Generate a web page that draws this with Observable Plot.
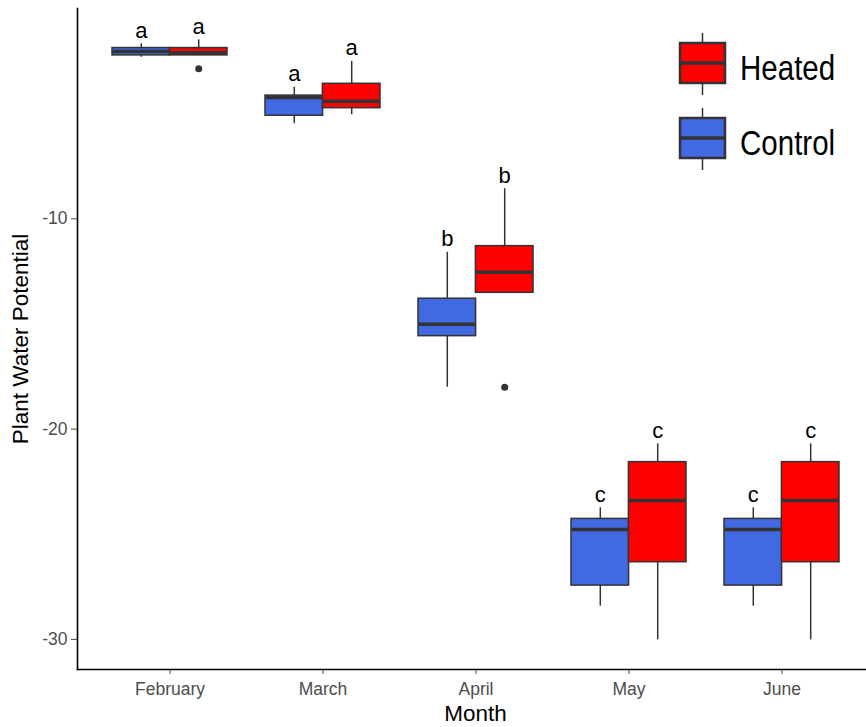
<!DOCTYPE html>
<html>
<head>
<meta charset="utf-8">
<script src="https://cdn.jsdelivr.net/npm/d3@7"></script>
<script src="https://cdn.jsdelivr.net/npm/@observablehq/plot@0.6"></script>
<style>
  body { margin: 0; background: #fff; }
  #chart { position: relative; width: 866px; height: 727px; overflow: hidden; }
  #legend { position: absolute; left: 0; top: 0; pointer-events: none; }
</style>
</head>
<body>
<div id="chart"></div>
<script>
// Months on the x axis and the two treatments
const months = ["February", "March", "April", "May", "June"];
const groups = ["Control", "Heated"];
const groupColors = ["#4169E1", "#FF0000"];

// Box-plot summaries per month (lower whisker, Q1, median, Q3, upper whisker)
const controlLow    = [-2.32, -5.48, -18.01, -28.42, -28.42];
const controlQ1     = [-2.23, -5.10, -15.58, -27.44, -27.44];
const controlMedian = [-2.04, -4.23, -15.01, -24.77, -24.77];
const controlQ3     = [-1.88, -4.14, -13.80, -24.27, -24.27];
const controlHigh   = [-1.68, -3.74, -11.59, -23.74, -23.74];

const heatedLow     = [-2.23, -5.05, -13.52, -30.02, -30.02];
const heatedQ1      = [-2.23, -4.74, -13.52, -26.33, -26.33];
const heatedMedian  = [-2.10, -4.41, -12.54, -23.40, -23.40];
const heatedQ3      = [-1.88, -3.58, -11.30, -21.57, -21.57];
const heatedHigh    = [-1.49, -2.51, -8.57, -20.70, -20.70];

// Significance letters (same letter for both treatments within a month)
const letters = ["a", "a", "b", "c", "c"];

// Outlying observations (Heated treatment)
const outlierMonths = ["February", "April"];
const outlierValues = [-2.87, -18.01];

const yTicks = [-30, -20, -10];

function rowsFor(group, low, q1, med, q3, high) {
  return months.map((m, i) => ({
    month: m, group,
    low: low[i], q1: q1[i], median: med[i], q3: q3[i], high: high[i],
    letter: letters[i]
  }));
}
const control = rowsFor("Control", controlLow, controlQ1, controlMedian, controlQ3, controlHigh);
const heated  = rowsFor("Heated", heatedLow, heatedQ1, heatedMedian, heatedQ3, heatedHigh);
const outliers = outlierMonths.map((m, i) => ({ month: m, group: "Heated", value: outlierValues[i] }));

// Layout
const W = 866, H = 727;
const panelLeft = 77, panelRight = 873, panelTop = 8, panelBottom = 669;
const pInner = 0.25, pOuter = 0.225;
const step = (panelRight - panelLeft) / (months.length - pInner + 2 * pOuter);
const half = step * (1 - pInner) / 2;   // width of one box
const boxStroke = "#333333";

const plot = Plot.plot({
  width: W,
  height: H,
  marginLeft: panelLeft,
  marginRight: 0,
  marginTop: panelTop,
  marginBottom: H - panelBottom,
  style: { fontFamily: "'Liberation Sans', Arial, sans-serif", background: "white", color: "black" },
  x: { type: "band", domain: months, range: [panelLeft, panelRight], paddingInner: pInner, paddingOuter: pOuter },
  y: { domain: [-31.43, 0] },
  color: { domain: groups, range: groupColors },
  marks: [
    Plot.axisY({ ticks: yTicks, tickFormat: d => String(d), tickSize: 6, tickPadding: 4,
                 fontSize: 17.5, color: "#4d4d4d", label: null }),
    Plot.axisX({ tickSize: 5, tickPadding: 8, fontSize: 17.5, color: "#4d4d4d", label: null }),

    // whiskers
    Plot.ruleX(control, { x: "month", y1: "low", y2: "high", dx: -half / 2, stroke: boxStroke, strokeWidth: 1.5 }),
    Plot.ruleX(heated,  { x: "month", y1: "low", y2: "high", dx:  half / 2, stroke: boxStroke, strokeWidth: 1.5 }),

    // boxes (Q1 to Q3)
    Plot.barY(control, { x: "month", y1: "q1", y2: "q3", fill: "group", stroke: boxStroke, strokeWidth: 1.5, insetRight: half }),
    Plot.barY(heated,  { x: "month", y1: "q1", y2: "q3", fill: "group", stroke: boxStroke, strokeWidth: 1.5, insetLeft: half }),

    // medians
    Plot.tickY(control, { x: "month", y: "median", stroke: boxStroke, strokeWidth: 3.5, insetRight: half + 0.75, insetLeft: 0.75 }),
    Plot.tickY(heated,  { x: "month", y: "median", stroke: boxStroke, strokeWidth: 3.5, insetLeft: half + 0.75, insetRight: 0.75 }),

    // outliers
    Plot.dot(outliers, { x: "month", y: "value", dx: half / 2, r: 3.5, fill: boxStroke, stroke: null }),

    // significance letters above the upper whiskers
    Plot.text(control, { x: "month", y: "high", text: "letter", dx: -half / 2, dy: -6, lineAnchor: "bottom", fontSize: 22, fill: "black" }),
    Plot.text(heated,  { x: "month", y: "high", text: "letter", dx:  half / 2, dy: -6, lineAnchor: "bottom", fontSize: 22, fill: "black" }),

    // axis lines
    Plot.frame({ anchor: "left", stroke: "black", strokeWidth: 1.6 }),
    Plot.frame({ anchor: "bottom", stroke: "black", strokeWidth: 1.6 }),

    // axis titles
    Plot.text(["Plant Water Potential"], { text: d => d, frameAnchor: "left", textAnchor: "middle", rotate: -90, dx: -57, fontSize: 22.5, fill: "black" }),
    Plot.text(["Month"], { text: d => d, frameAnchor: "bottom", textAnchor: "middle", lineAnchor: "bottom", dy: 51, dx: 3.5, fontSize: 22.5, fill: "black" })
  ]
});

const chart = document.getElementById("chart");
chart.appendChild(plot);

// Legend: box-plot keys, Heated above Control
const legend = d3.select(chart).append("svg")
  .attr("id", "legend").attr("width", W).attr("height", H);
const keyX = 680, keyW = 45, keyTop = 43, keyH = 40, keyGap = 75;
const legendOrder = [...groups].reverse();
legendOrder.forEach((g, i) => {
  const color = groupColors[groups.indexOf(g)];
  const y0 = keyTop + i * keyGap;
  const cx = keyX + keyW / 2;
  const k = legend.append("g");
  k.append("line").attr("x1", cx).attr("x2", cx).attr("y1", y0 - 10).attr("y2", y0 + keyH + 12)
    .attr("stroke", boxStroke).attr("stroke-width", 1.5);
  k.append("rect").attr("x", keyX).attr("y", y0).attr("width", keyW).attr("height", keyH)
    .attr("fill", color).attr("stroke", boxStroke).attr("stroke-width", 2.5);
  k.append("line").attr("x1", keyX).attr("x2", keyX + keyW).attr("y1", y0 + keyH / 2).attr("y2", y0 + keyH / 2)
    .attr("stroke", boxStroke).attr("stroke-width", 3.5);
  // condensed label text
  k.append("text")
    .attr("transform", `translate(740,${y0 + 37}) scale(0.82,1)`)
    .attr("font-family", "'Liberation Sans', Arial, sans-serif")
    .attr("font-size", 36).attr("fill", "black").text(g);
});
</script>
</body>
</html>
